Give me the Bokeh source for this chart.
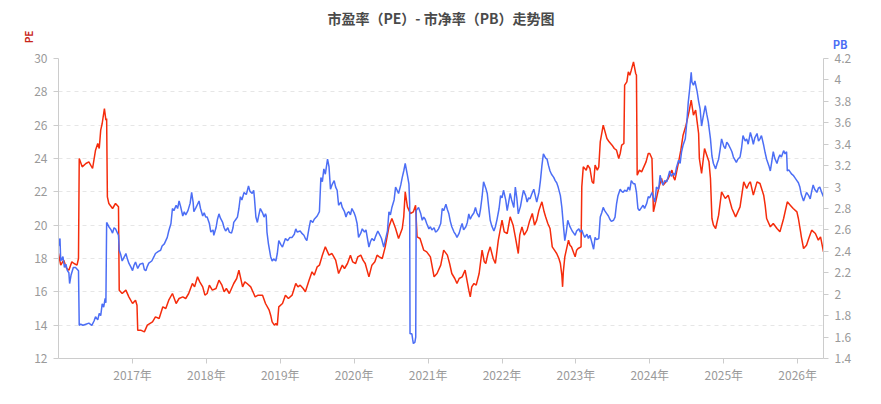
import datetime as dt

from bokeh.embed import file_html
from bokeh.models import ColumnDataSource, FixedTicker, Grid, LinearAxis, Range1d, Title
from bokeh.plotting import figure
from bokeh.resources import INLINE

# Data (time as decimal year)
pe_time = [
    2016.00, 2016.03, 2016.07, 2016.11, 2016.14, 2016.18, 2016.21, 2016.25, 2016.27, 2016.28,
    2016.32, 2016.37, 2016.41, 2016.46, 2016.50, 2016.53, 2016.55, 2016.57, 2016.59, 2016.62,
    2016.64, 2016.65, 2016.66, 2016.68, 2016.73, 2016.77, 2016.81, 2016.82, 2016.86, 2016.91,
    2016.95, 2017.00, 2017.04, 2017.06, 2017.07, 2017.11, 2017.16, 2017.20, 2017.27, 2017.31,
    2017.36, 2017.41, 2017.45, 2017.49, 2017.54, 2017.59, 2017.63, 2017.68, 2017.72, 2017.76,
    2017.81, 2017.84, 2017.88, 2017.91, 2017.95, 2017.98, 2018.01, 2018.04, 2018.08, 2018.13,
    2018.17, 2018.21, 2018.24, 2018.27, 2018.31, 2018.34, 2018.37, 2018.41, 2018.44, 2018.46,
    2018.49, 2018.52, 2018.55, 2018.60, 2018.64, 2018.66, 2018.70, 2018.76, 2018.80, 2018.85,
    2018.87, 2018.89, 2018.92, 2018.94, 2018.96, 2018.98, 2019.03, 2019.07, 2019.11, 2019.16,
    2019.21, 2019.24, 2019.27, 2019.31, 2019.34, 2019.39, 2019.43, 2019.46, 2019.50, 2019.53,
    2019.57, 2019.61, 2019.66, 2019.70, 2019.75, 2019.79, 2019.84, 2019.87, 2019.91, 2019.95,
    2019.98, 2020.02, 2020.05, 2020.09, 2020.12, 2020.15, 2020.20, 2020.24, 2020.28, 2020.31,
    2020.34, 2020.38, 2020.42, 2020.47, 2020.51, 2020.56, 2020.60, 2020.65, 2020.67, 2020.69,
    2020.72, 2020.76, 2020.80, 2020.83, 2020.85, 2020.89, 2020.94, 2020.98, 2021.03, 2021.08,
    2021.12, 2021.17, 2021.21, 2021.26, 2021.29, 2021.32, 2021.36, 2021.39, 2021.42, 2021.46,
    2021.50, 2021.55, 2021.57, 2021.59, 2021.62, 2021.65, 2021.69, 2021.73, 2021.76, 2021.78,
    2021.81, 2021.84, 2021.88, 2021.91, 2021.95, 2022.00, 2022.03, 2022.07, 2022.11, 2022.15,
    2022.18, 2022.22, 2022.24, 2022.27, 2022.30, 2022.34, 2022.37, 2022.41, 2022.44, 2022.47,
    2022.50, 2022.54, 2022.57, 2022.59, 2022.62, 2022.65, 2022.68, 2022.71, 2022.74, 2022.77,
    2022.79, 2022.81, 2022.82, 2022.83, 2022.85, 2022.90, 2022.92, 2022.94, 2022.99, 2023.01,
    2023.03, 2023.07, 2023.08, 2023.10, 2023.14, 2023.16, 2023.19, 2023.22, 2023.24, 2023.26,
    2023.29, 2023.31, 2023.33, 2023.37, 2023.42, 2023.45, 2023.49, 2023.52, 2023.55, 2023.58,
    2023.60, 2023.62, 2023.65, 2023.66, 2023.69, 2023.71, 2023.73, 2023.75, 2023.78, 2023.81,
    2023.82, 2023.83, 2023.86, 2023.89, 2023.92, 2023.95, 2023.98, 2024.00, 2024.03, 2024.05,
    2024.09, 2024.12, 2024.16, 2024.18, 2024.20, 2024.25, 2024.30, 2024.32, 2024.34, 2024.39,
    2024.42, 2024.45, 2024.49, 2024.53, 2024.56, 2024.59, 2024.62, 2024.64, 2024.66, 2024.67,
    2024.70, 2024.74, 2024.77, 2024.80, 2024.82, 2024.84, 2024.86, 2024.89, 2024.93, 2024.95,
    2024.97, 2025.02, 2025.06, 2025.11, 2025.16, 2025.19, 2025.22, 2025.27, 2025.31, 2025.34,
    2025.36, 2025.40, 2025.45, 2025.49, 2025.54, 2025.56, 2025.58, 2025.63, 2025.67, 2025.72,
    2025.76, 2025.81, 2025.86, 2025.90, 2025.94, 2025.99, 2026.01, 2026.04, 2026.05, 2026.08,
    2026.12, 2026.15, 2026.19, 2026.24, 2026.28, 2026.31, 2026.35,
]
pe_value = [
    18.3, 17.6, 17.9, 17.4, 17.3, 17.8, 17.7, 17.6, 18.0, 24.0,
    23.5, 23.7, 23.8, 23.4, 24.5, 24.9, 24.6, 25.7, 26.1, 27.0,
    26.3, 26.4, 21.7, 21.3, 21.0, 21.3, 21.1, 16.1, 15.9, 16.1,
    15.7, 15.3, 15.5, 15.2, 13.7, 13.7, 13.6, 14.0, 14.2, 14.5,
    14.4, 15.1, 15.0, 15.5, 15.9, 15.3, 15.6, 15.7, 15.6, 15.9,
    16.5, 16.3, 16.9, 16.6, 16.3, 15.8, 15.9, 16.4, 16.1, 16.2,
    16.7, 16.4, 16.0, 16.2, 15.9, 16.2, 16.5, 16.8, 17.3, 16.9,
    16.3, 16.6, 16.5, 16.3, 15.9, 15.7, 15.8, 15.8, 15.3, 14.9,
    14.6, 14.2, 14.0, 14.1, 14.0, 15.1, 15.3, 15.8, 15.6, 15.8,
    16.5, 16.3, 16.4, 16.2, 16.0, 16.7, 17.2, 17.0, 17.5, 17.6,
    18.2, 18.7, 18.2, 18.3, 17.9, 17.1, 17.6, 17.4, 17.7, 18.2,
    17.8, 17.7, 18.1, 18.2, 17.9, 17.7, 16.9, 17.6, 17.8, 18.2,
    18.1, 18.0, 18.7, 19.9, 20.4, 19.8, 19.2, 19.8, 20.5, 22.0,
    21.1, 20.7, 20.8, 21.2, 19.3, 19.2, 18.5, 18.4, 18.1, 16.9,
    17.1, 17.6, 18.5, 18.2, 17.7, 17.1, 16.8, 16.5, 16.8, 16.9,
    17.3, 16.1, 15.7, 16.3, 16.5, 16.4, 17.1, 18.5, 17.8, 17.7,
    18.3, 18.7, 18.0, 17.7, 19.1, 20.3, 19.6, 19.5, 20.5, 20.0,
    19.3, 18.3, 19.4, 19.9, 19.4, 19.7, 20.2, 20.7, 20.0, 20.3,
    20.9, 21.4, 20.8, 20.5, 20.1, 19.8, 18.7, 18.5, 18.3, 18.0,
    17.7, 17.0, 16.3, 17.2, 18.1, 19.1, 18.8, 18.7, 18.1, 18.5,
    18.6, 18.7, 22.3, 23.5, 23.3, 23.6, 23.4, 22.6, 22.5, 23.6,
    23.3, 23.5, 25.0, 26.0, 25.2, 25.0, 24.8, 24.6, 24.5, 24.0,
    24.3, 24.8, 24.9, 28.4, 28.6, 29.2, 29.0, 29.3, 29.8, 29.1,
    29.0, 23.0, 23.3, 23.2, 23.5, 23.8, 24.3, 24.3, 24.0, 20.8,
    21.6, 22.2, 22.8, 22.4, 22.5, 22.8, 23.3, 22.9, 22.7, 23.8,
    24.5, 25.4, 26.0, 26.8, 27.5, 26.6, 26.9, 26.2, 25.5, 24.0,
    23.1, 24.6, 24.2, 23.8, 22.8, 20.4, 20.0, 19.8, 20.6, 21.3,
    22.0, 21.6, 21.8, 21.0, 20.5, 20.8, 21.1, 22.6, 22.2, 22.5,
    22.6, 21.8, 22.6, 22.5, 21.8, 21.2, 20.4, 19.9, 20.1, 19.8,
    19.6, 20.4, 21.4, 21.2, 21.0, 20.8, 20.4, 19.6, 19.3, 18.6,
    18.8, 19.2, 19.7, 19.5, 19.1, 19.3, 18.4,
]

pb_time = [
    2016.00, 2016.02, 2016.03, 2016.06, 2016.08, 2016.10, 2016.12, 2016.14, 2016.15, 2016.17,
    2016.20, 2016.23, 2016.27, 2016.28, 2016.30, 2016.33, 2016.37, 2016.41, 2016.45, 2016.48,
    2016.50, 2016.53, 2016.55, 2016.57, 2016.59, 2016.61, 2016.63, 2016.64, 2016.65, 2016.68,
    2016.71, 2016.73, 2016.75, 2016.77, 2016.81, 2016.82, 2016.84, 2016.86, 2016.89, 2016.91,
    2016.93, 2016.95, 2016.98, 2017.00, 2017.02, 2017.04, 2017.07, 2017.10, 2017.14, 2017.16,
    2017.18, 2017.20, 2017.22, 2017.26, 2017.29, 2017.31, 2017.35, 2017.38, 2017.40, 2017.43,
    2017.45, 2017.47, 2017.49, 2017.52, 2017.54, 2017.56, 2017.59, 2017.61, 2017.63, 2017.65,
    2017.68, 2017.70, 2017.72, 2017.75, 2017.78, 2017.80, 2017.82, 2017.83, 2017.86, 2017.88,
    2017.90, 2017.92, 2017.95, 2017.97, 2017.99, 2018.01, 2018.04, 2018.06, 2018.09, 2018.10,
    2018.13, 2018.15, 2018.17, 2018.19, 2018.22, 2018.24, 2018.26, 2018.29, 2018.31, 2018.34,
    2018.36, 2018.37, 2018.40, 2018.42, 2018.44, 2018.46, 2018.48, 2018.51, 2018.54, 2018.57,
    2018.59, 2018.62, 2018.64, 2018.65, 2018.67, 2018.69, 2018.71, 2018.73, 2018.76, 2018.78,
    2018.80, 2018.81, 2018.82, 2018.84, 2018.87, 2018.89, 2018.91, 2018.94, 2018.96, 2018.98,
    2019.01, 2019.03, 2019.05, 2019.07, 2019.10, 2019.13, 2019.16, 2019.19, 2019.21, 2019.23,
    2019.27, 2019.29, 2019.32, 2019.34, 2019.36, 2019.39, 2019.41, 2019.44, 2019.46, 2019.50,
    2019.53, 2019.55, 2019.57, 2019.59, 2019.61, 2019.64, 2019.66, 2019.68, 2019.70, 2019.73,
    2019.75, 2019.77, 2019.79, 2019.82, 2019.84, 2019.87, 2019.89, 2019.91, 2019.93, 2019.95,
    2019.97, 2020.00, 2020.02, 2020.04, 2020.06, 2020.09, 2020.11, 2020.14, 2020.16, 2020.18,
    2020.20, 2020.22, 2020.24, 2020.27, 2020.29, 2020.32, 2020.35, 2020.37, 2020.40, 2020.42,
    2020.45, 2020.47, 2020.49, 2020.51, 2020.54, 2020.56, 2020.58, 2020.60, 2020.63, 2020.65,
    2020.67, 2020.69, 2020.72, 2020.74, 2020.750, 2020.755, 2020.78, 2020.79, 2020.80, 2020.82,
    2020.832, 2020.838, 2020.87, 2020.90, 2020.92, 2020.94, 2020.96, 2020.98, 2021.01, 2021.03,
    2021.05, 2021.08, 2021.10, 2021.12, 2021.14, 2021.17, 2021.19, 2021.21, 2021.24, 2021.26,
    2021.28, 2021.30, 2021.32, 2021.35, 2021.37, 2021.39, 2021.42, 2021.44, 2021.46, 2021.48,
    2021.51, 2021.53, 2021.55, 2021.57, 2021.59, 2021.62, 2021.64, 2021.66, 2021.69, 2021.71,
    2021.73, 2021.75, 2021.78, 2021.80, 2021.82, 2021.84, 2021.86, 2021.89, 2021.91, 2021.93,
    2021.96, 2021.98, 2022.00, 2022.02, 2022.05, 2022.07, 2022.09, 2022.11, 2022.13, 2022.16,
    2022.18, 2022.20, 2022.22, 2022.25, 2022.27, 2022.29, 2022.32, 2022.34, 2022.36, 2022.38,
    2022.40, 2022.43, 2022.45, 2022.47, 2022.50, 2022.52, 2022.54, 2022.56, 2022.59, 2022.61,
    2022.63, 2022.65, 2022.67, 2022.70, 2022.72, 2022.74, 2022.76, 2022.79, 2022.81, 2022.83,
    2022.85, 2022.87, 2022.89, 2022.92, 2022.95, 2022.97, 2022.99, 2023.01, 2023.04, 2023.06,
    2023.08, 2023.10, 2023.12, 2023.15, 2023.17, 2023.19, 2023.21, 2023.24, 2023.26, 2023.28,
    2023.31, 2023.33, 2023.35, 2023.37, 2023.39, 2023.42, 2023.44, 2023.46, 2023.48, 2023.51,
    2023.53, 2023.55, 2023.57, 2023.60, 2023.62, 2023.64, 2023.66, 2023.69, 2023.71, 2023.73,
    2023.75, 2023.78, 2023.80, 2023.82, 2023.84, 2023.86, 2023.89, 2023.91, 2023.93, 2023.96,
    2023.98, 2024.00, 2024.03, 2024.05, 2024.07, 2024.09, 2024.12, 2024.14, 2024.16, 2024.18,
    2024.20, 2024.23, 2024.25, 2024.27, 2024.29, 2024.32, 2024.34, 2024.36, 2024.39, 2024.41,
    2024.43, 2024.45, 2024.48, 2024.50, 2024.52, 2024.54, 2024.56, 2024.57, 2024.59, 2024.61,
    2024.64, 2024.66, 2024.68, 2024.70, 2024.72, 2024.75, 2024.77, 2024.79, 2024.82, 2024.84,
    2024.86, 2024.89, 2024.91, 2024.93, 2024.95, 2024.97, 2025.00, 2025.02, 2025.04, 2025.06,
    2025.09, 2025.11, 2025.13, 2025.17, 2025.19, 2025.22, 2025.24, 2025.26, 2025.29, 2025.31,
    2025.33, 2025.36, 2025.38, 2025.40, 2025.42, 2025.45, 2025.47, 2025.49, 2025.51, 2025.54,
    2025.56, 2025.58, 2025.61, 2025.63, 2025.65, 2025.67, 2025.69, 2025.72, 2025.74, 2025.76,
    2025.78, 2025.81, 2025.83, 2025.85, 2025.86, 2025.88, 2025.90, 2025.92, 2025.94, 2025.96,
    2025.99, 2026.01, 2026.03, 2026.05, 2026.08, 2026.10, 2026.12, 2026.15, 2026.17, 2026.19,
    2026.21, 2026.23, 2026.26, 2026.28, 2026.30, 2026.32, 2026.35,
]
pb_value = [
    2.45, 2.52, 2.31, 2.35, 2.25, 2.28, 2.22, 2.20, 2.10, 2.18,
    2.25, 2.25, 2.22, 1.71, 1.72, 1.71, 1.72, 1.73, 1.71, 1.75,
    1.79, 1.76, 1.82, 1.80, 1.91, 1.88, 1.96, 1.92, 2.67, 2.63,
    2.60, 2.57, 2.62, 2.61, 2.55, 2.41, 2.37, 2.31, 2.35, 2.38,
    2.33, 2.29, 2.25, 2.22, 2.27, 2.30, 2.24, 2.28, 2.29, 2.23,
    2.22, 2.26, 2.29, 2.31, 2.35, 2.38, 2.40, 2.41, 2.45, 2.47,
    2.50, 2.53, 2.59, 2.66, 2.80, 2.78, 2.83, 2.80, 2.87, 2.82,
    2.73, 2.77, 2.74, 2.78, 2.85, 2.95, 2.86, 2.77, 2.81, 2.84,
    2.87, 2.80, 2.73, 2.76, 2.72, 2.72, 2.66, 2.58, 2.60, 2.55,
    2.62, 2.70, 2.75, 2.71, 2.67, 2.62, 2.59, 2.62, 2.58, 2.57,
    2.62, 2.67, 2.70, 2.72, 2.80, 2.91, 2.88, 2.95, 2.93, 3.01,
    2.96, 2.94, 2.97, 2.90, 2.72, 2.67, 2.74, 2.80, 2.76, 2.72,
    2.75, 2.73, 2.58, 2.47, 2.35, 2.31, 2.33, 2.31, 2.38, 2.50,
    2.46, 2.44, 2.48, 2.52, 2.50, 2.53, 2.53, 2.56, 2.61, 2.58,
    2.59, 2.57, 2.55, 2.52, 2.50, 2.62, 2.69, 2.67, 2.70, 2.73,
    2.77, 3.09, 3.05, 3.17, 3.12, 3.26, 3.19, 2.98, 3.02, 3.06,
    3.00, 2.97, 2.83, 2.86, 2.81, 2.77, 2.72, 2.76, 2.77, 2.74,
    2.80, 2.76, 2.72, 2.66, 2.53, 2.57, 2.61, 2.58, 2.60, 2.52,
    2.44, 2.49, 2.52, 2.50, 2.54, 2.59, 2.55, 2.52, 2.44, 2.50,
    2.59, 2.77, 2.74, 2.81, 2.88, 3.00, 2.97, 2.94, 3.02, 3.09,
    3.15, 3.22, 3.11, 3.03, 2.85, 1.63, 1.63, 1.58, 1.54, 1.55,
    1.60, 2.78, 2.81, 2.75, 2.69, 2.72, 2.70, 2.66, 2.61, 2.63,
    2.60, 2.62, 2.58, 2.59, 2.61, 2.66, 2.80, 2.78, 2.84, 2.79,
    2.75, 2.68, 2.63, 2.58, 2.56, 2.53, 2.57, 2.62, 2.66, 2.60,
    2.63, 2.67, 2.75, 2.70, 2.73, 2.76, 2.81, 2.76, 2.72, 2.80,
    2.91, 3.05, 2.99, 2.94, 2.81, 2.69, 2.64, 2.59, 2.63, 2.69,
    2.80, 2.92, 2.90, 2.97, 2.88, 2.78, 2.86, 2.94, 2.88, 2.81,
    3.00, 2.90, 2.75, 2.82, 2.90, 2.97, 2.92, 2.86, 2.90, 2.89,
    2.93, 2.98, 2.92, 2.86, 2.95, 3.06, 3.20, 3.31, 3.27, 3.26,
    3.20, 3.15, 3.12, 3.09, 3.06, 3.04, 3.00, 2.92, 2.81, 2.65,
    2.50, 2.58, 2.69, 2.63, 2.59, 2.57, 2.55, 2.59, 2.61, 2.58,
    2.60, 2.56, 2.53, 2.56, 2.52, 2.55, 2.50, 2.42, 2.53, 2.51,
    2.52, 2.72, 2.76, 2.81, 2.78, 2.75, 2.73, 2.70, 2.68, 2.69,
    2.72, 2.84, 2.92, 2.98, 2.96, 2.95, 2.97, 2.96, 3.00, 2.97,
    3.06, 3.03, 3.03, 2.95, 2.80, 2.78, 2.81, 2.83, 2.80, 2.85,
    2.91, 2.90, 2.95, 2.90, 2.86, 3.00, 2.98, 3.11, 3.05, 3.02,
    3.06, 3.05, 3.10, 3.15, 3.10, 3.13, 3.11, 3.18, 3.25, 3.22,
    3.33, 3.39, 3.45, 3.60, 3.79, 3.92, 4.07, 3.98, 3.95, 3.99,
    3.89, 3.80, 3.73, 3.57, 3.65, 3.76, 3.68, 3.61, 3.45, 3.29,
    3.22, 3.17, 3.22, 3.26, 3.35, 3.45, 3.38, 3.36, 3.42, 3.40,
    3.36, 3.33, 3.28, 3.23, 3.26, 3.28, 3.36, 3.48, 3.43, 3.45,
    3.40, 3.51, 3.46, 3.40, 3.46, 3.50, 3.43, 3.45, 3.48, 3.39,
    3.32, 3.26, 3.20, 3.15, 3.24, 3.33, 3.27, 3.22, 3.27, 3.30,
    3.28, 3.34, 3.31, 3.33, 3.15, 3.16, 3.14, 3.12, 3.11, 3.09,
    3.06, 3.04, 3.00, 2.93, 2.87, 2.91, 2.95, 2.92, 2.89, 2.96,
    3.02, 2.98, 2.95, 2.99, 3.00, 2.96, 2.91,
]

pe_ticks = [12, 14, 16, 18, 20, 22, 24, 26, 28, 30]
pb_ticks = [1.4, 1.6, 1.8, 2.0, 2.2, 2.4, 2.6, 2.8, 3.0, 3.2, 3.4, 3.6, 3.8, 4.0, 4.2]
years = [2017, 2018, 2019, 2020, 2021, 2022, 2023, 2024, 2025, 2026]

TITLE = "市盈率（PE）- 市净率（PB）走势图"
FONT = "Noto Sans CJK SC"
PE_COLOR = "#f52c0c"
PB_COLOR = "#4c6ef5"


def to_dt(t):
    y = int(t)
    start = dt.datetime(y, 1, 1)
    return start + (dt.datetime(y + 1, 1, 1) - start) * (t - y)


def epoch_ms(d):
    return int((d - dt.datetime(1970, 1, 1)).total_seconds() * 1000)


pe_src = ColumnDataSource(dict(date=[to_dt(t) for t in pe_time], pe=pe_value))
pb_src = ColumnDataSource(dict(date=[to_dt(t) for t in pb_time], pb=pb_value))

p = figure(
    width=881, height=404,
    x_axis_type="datetime",
    x_range=Range1d(to_dt(pe_time[0]), to_dt(pe_time[-1])),
    y_range=Range1d(pe_ticks[0], pe_ticks[-1]),
    output_backend="svg", toolbar_location=None,
    min_border_left=58, min_border_right=58,
    min_border_top=58, min_border_bottom=46,
)
p.extra_y_ranges = {"pb": Range1d(pb_ticks[0], pb_ticks[-1])}
p.outline_line_color = None
p.background_fill_color = "white"
p.border_fill_color = "white"

p.title.text = TITLE
p.title.align = "center"
p.title.text_font = FONT
p.title.text_font_size = "14px"
p.title.text_font_style = "bold"
p.title.text_color = "#4a4a4a"
p.title.standoff = 0

# axis names: PB above the right axis, PE rotated above the left axis
p.add_layout(Title(text="PB", align="right", offset=-24, text_font=FONT,
                   text_font_size="11px", text_font_style="bold",
                   text_color=PB_COLOR, standoff=13), "above")
p.add_layout(Title(text="PE", align="right", offset=-28, text_font=FONT,
                   text_font_size="10px", text_font_style="bold",
                   text_color="#c8261a", standoff=-9), "left")

p.line("date", "pe", source=pe_src, color=PE_COLOR, line_width=1.5)
p.line("date", "pb", source=pb_src, color=PB_COLOR, line_width=1.5, y_range_name="pb")

tick_ms = [epoch_ms(dt.datetime(y, 1, 1)) for y in years]
xax = p.xaxis[0]
xax.ticker = FixedTicker(ticks=tick_ms)
xax.major_label_overrides = {ms: f"{y}年" for ms, y in zip(tick_ms, years)}

yax = p.yaxis[0]
yax.ticker = FixedTicker(ticks=pe_ticks)

pb_axis = LinearAxis(y_range_name="pb", ticker=FixedTicker(ticks=pb_ticks))
pb_axis.major_label_overrides = {v: f"{v:g}" for v in pb_ticks}
p.add_layout(pb_axis, "right")

for ax in (xax, yax, pb_axis):
    ax.axis_line_color = "#cccccc"
    ax.major_tick_line_color = "#cccccc"
    ax.major_tick_in = 0
    ax.major_tick_out = 5
    ax.minor_tick_line_color = None
    ax.major_label_text_color = "#9a9a9a"
    ax.major_label_text_font = FONT
    ax.major_label_text_font_size = "12px"
    ax.major_label_standoff = 6
xax.major_label_standoff = 2

p.xgrid.grid_line_color = None
p.ygrid.grid_line_color = "#e6e6e6"
p.ygrid.grid_line_dash = "4 4"
pb_grid = Grid(dimension=1, axis=pb_axis, grid_line_color="#e6e6e6", grid_line_dash="4 4")
p.add_layout(pb_grid)

open("out.html", "w").write(file_html(p, INLINE))
